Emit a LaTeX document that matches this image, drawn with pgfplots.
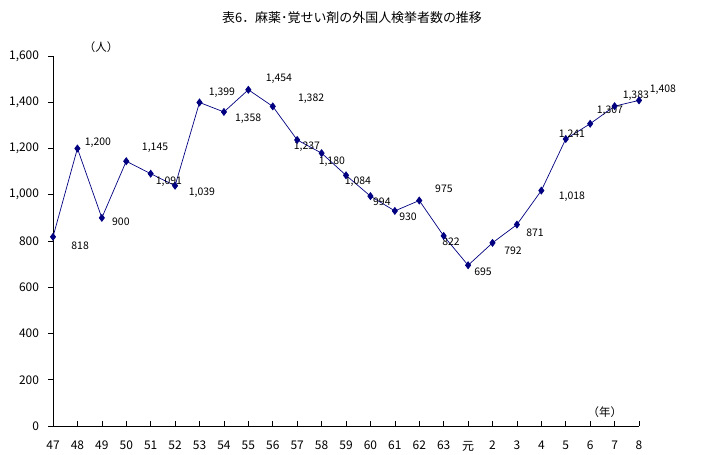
\documentclass[border=0pt]{standalone}
\usepackage{fontspec}
\setmainfont{Noto Sans CJK JP}
\usepackage{pgfplots}
\pgfplotsset{compat=1.18}
\definecolor{navyline}{HTML}{000080}
\begin{document}
\begin{tikzpicture}[x=1bp,y=1bp]
\useasboundingbox (0,0) rectangle (704,455);
\node[font=\fontsize{13}{15}\selectfont] at (352,437) {表6．麻薬･覚せい剤の外国人検挙者数の推移};
\begin{axis}[
  at={(53bp,29bp)}, anchor=south west,
  scale only axis, width=586bp, height=370bp,
  xmin=0, xmax=24, ymin=0, ymax=1600,
  axis lines=left, axis line style={-, black, line width=0.8pt},
  xtick={0,...,24},
  xticklabels={47,48,49,50,51,52,53,54,55,56,57,58,59,60,61,62,63,元,2,3,4,5,6,7,8},
  ytick={0,200,...,1600},
  /pgf/number format/assume math mode=true,
  /pgf/number format/1000 sep={,},
  tick label style={font=\fontsize{12}{14}\selectfont, black},
  x tick label style={yshift=-9bp},
  y tick label style={xshift=-8bp},
  major tick length=5bp,
  xtick style={black, line width=0.6pt, yshift=2.5bp},
  ytick style={black, line width=0.6pt, xshift=-2.5bp},
  clip=false,
]
\addplot[navyline, line width=0.7pt, mark=diamond*, mark size=3.5pt, mark options={fill=navyline, draw=navyline}]
coordinates {
(0,818)(1,1200)(2,900)(3,1145)(4,1091)(5,1039)(6,1399)(7,1358)(8,1454)(9,1382)
(10,1237)(11,1180)(12,1084)(13,994)(14,930)(15,975)(16,822)(17,695)(18,792)(19,871)
(20,1018)(21,1241)(22,1307)(23,1383)(24,1408)};
\begin{scope}[every node/.style={font=\fontsize{10.5}{12}\selectfont, inner sep=0pt}]
\node at (axis cs:1.11,778) {818};
\node at (axis cs:1.84,1224) {1,200};
\node at (axis cs:2.78,882) {900};
\node at (axis cs:4.18,1202) {1,145};
\node at (axis cs:4.75,1055) {1,091};
\node at (axis cs:6.10,1007) {1,039};
\node at (axis cs:6.92,1440) {1,399};
\node at (axis cs:7.99,1327) {1,358};
\node at (axis cs:9.25,1500) {1,454};
\node at (axis cs:10.57,1414) {1,382};
\node at (axis cs:10.40,1206) {1,237};
\node at (axis cs:11.42,1142) {1,180};
\node at (axis cs:12.49,1055) {1,084};
\node at (axis cs:13.47,969) {994};
\node at (axis cs:14.54,904) {930};
\node at (axis cs:16.01,1025) {975};
\node at (axis cs:16.30,796) {822};
\node at (axis cs:17.61,666) {695};
\node at (axis cs:18.84,757) {792};
\node at (axis cs:19.74,835) {871};
\node at (axis cs:21.25,990) {1,018};
\node at (axis cs:21.25,1258) {1,241};
\node at (axis cs:22.81,1362) {1,307};
\node at (axis cs:23.87,1427) {1,383};
\node at (axis cs:24.98,1453) {1,408};
\end{scope}
\node[font=\fontsize{11.5}{13}\selectfont] at (axis cs:1.97,1639) {（人）};
\node[font=\fontsize{11.5}{13}\selectfont] at (axis cs:22.6,61) {（年）};
\end{axis}
\end{tikzpicture}
\end{document}
